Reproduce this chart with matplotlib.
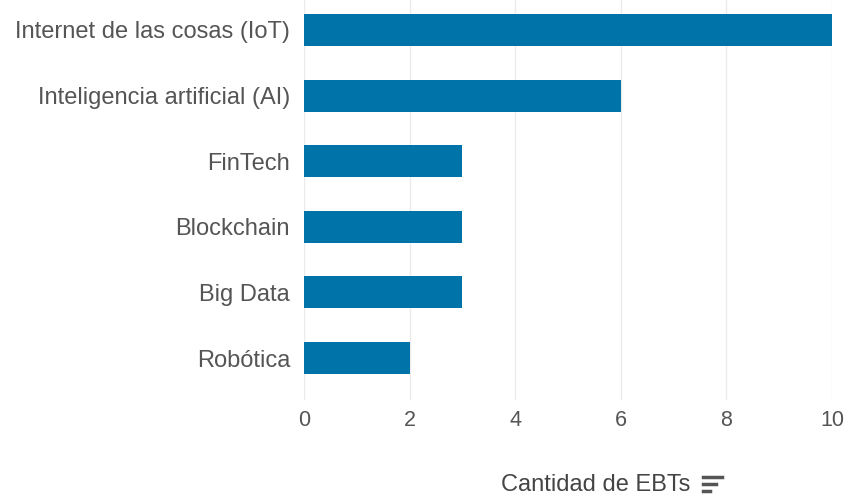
import matplotlib.pyplot as plt
from matplotlib.lines import Line2D

categories = ["Robótica", "Big Data", "Blockchain", "FinTech",
              "Inteligencia artificial (AI)", "Internet de las cosas (IoT)"]
values = [2, 3, 3, 3, 6, 10]
xticks = [0, 2, 4, 6, 8, 10]

plt.rcParams['font.family'] = ['Liberation Sans', 'DejaVu Sans']

fig = plt.figure(figsize=(8.47, 4.98), dpi=100)
ax = fig.add_axes([304 / 847, 1 - 400 / 498, (832 - 304) / 847, 400 / 498])

ax.barh(range(len(categories)), values, height=0.49, color="#0073a8", zorder=2)
ax.set_xlim(0, 10)
ax.set_ylim(-0.64, 5.457)
ax.set_yticks(range(len(categories)))
ax.set_yticklabels(categories)
ax.set_xticks(xticks)
ax.grid(axis="x", color="#ebebeb", lw=1, zorder=0)
for s in ax.spines.values():
    s.set_visible(False)
ax.tick_params(axis="both", length=0, labelcolor="#555555")
ax.tick_params(axis="y", pad=10, labelsize=17)
ax.tick_params(axis="x", pad=7, labelsize=15.5)

fig.text(690 / 847, 1 - 485 / 498, "Cantidad de EBTs", ha="right", va="center",
         fontsize=17, color="#444444")
# sort icon
for y0, x1 in [(477, 722), (484, 716), (491, 710)]:
    fig.add_artist(Line2D([703 / 847, x1 / 847], [1 - y0 / 498, 1 - y0 / 498],
                          color="#555555", lw=2.5, transform=fig.transFigure))

fig.savefig("out.png", dpi=100)
